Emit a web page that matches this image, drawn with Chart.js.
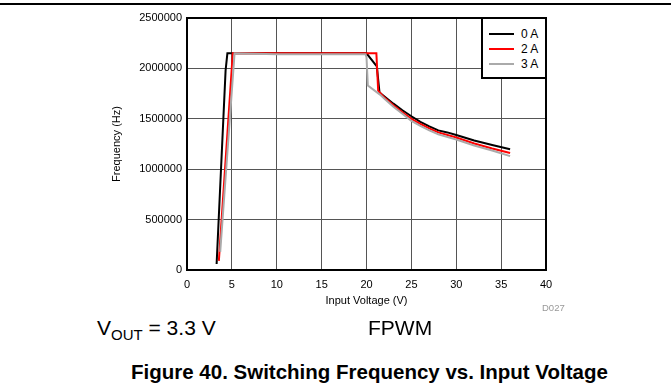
<!DOCTYPE html>
<html>
<head>
<meta charset="utf-8">
<script src="https://cdn.jsdelivr.net/npm/chart.js@4.4.1/dist/chart.umd.min.js"></script>
<style>
  body { margin: 0; background: #fff; font-family: "Liberation Sans", Arial, sans-serif; }
  #wrap { position: relative; width: 671px; height: 388px; overflow: hidden; }
  #topline { position: absolute; left: 0; top: 3px; width: 671px; height: 2px; background: #000; }
  #box { position: absolute; left: 0; top: 0; width: 671px; height: 308px; }
  #legend { position: absolute; left: 481px; top: 17px; width: 62px; height: 58px; border: 2px solid #000; background: #fff; }
  .row { position: absolute; left: 6px; height: 14px; font-size: 12px; line-height: 14px; }
  .row span.sw { position: absolute; left: 0; top: 6px; width: 25px; height: 2px; }
  .row span.tx { position: absolute; left: 32px; top: 0; white-space: nowrap; }
  .note { position: absolute; white-space: nowrap; color: #000; }
</style>
</head>
<body>
<div id="wrap">
  <div id="topline"></div>
  <div id="box"><canvas id="freqChart"></canvas></div>
  <div id="legend"></div>
  <div class="note" style="left:542px; top:302px; font-size:9.5px; color:#999;">D027</div>
  <div class="note" style="left:97px; top:316px; font-size:21px;">V<sub style="font-size:15px; vertical-align:-5px;">OUT</sub> = 3.3 V</div>
  <div class="note" style="left:368px; top:316px; font-size:21px;">FPWM</div>
  <div class="note" style="left:131px; top:360px; font-size:20.5px; font-weight:bold;">Figure 40. Switching Frequency vs. Input Voltage</div>
</div>
<script>
// series: input voltage (V) and switching frequency (Hz)
var seriesNames = ['0 A', '2 A', '3 A'];
var seriesColors = ['#000000', '#ff0000', '#aaaaaa'];

var vin0A = [3.3, 4.3, 4.5, 10, 15, 20.0, 21.15, 21.45, 22, 23, 24, 25, 26, 27, 28, 29, 30, 32, 34, 36];
var freq0A = [60000, 1980000, 2150000, 2150000, 2150000, 2150000, 2020000, 1760000, 1720000, 1650000, 1585000, 1525000, 1470000, 1425000, 1385000, 1365000, 1340000, 1285000, 1240000, 1197000];

var vin2A = [3.55, 5.1, 10, 15, 20, 21.1, 21.3, 22, 23, 24, 25, 26, 27, 28, 30, 32, 34, 36];
var freq2A = [90000, 2150000, 2150000, 2150000, 2150000, 2150000, 1780000, 1710000, 1635000, 1565000, 1500000, 1450000, 1405000, 1365000, 1315000, 1255000, 1205000, 1160000];

var vin3A = [3.7, 5.3, 10, 15, 19.9, 20.0, 20.15, 21.5, 22, 23, 24, 25, 26, 27, 28, 30, 32, 34, 36];
var freq3A = [180000, 2150000, 2140000, 2140000, 2140000, 2110000, 1830000, 1740000, 1700000, 1620000, 1550000, 1480000, 1430000, 1385000, 1345000, 1295000, 1235000, 1185000, 1130000];

var xTicks = [0, 5, 10, 15, 20, 25, 30, 35, 40];
var yTicks = [0, 500000, 1000000, 1500000, 2000000, 2500000];

function toPoints(xs, ys) {
  return xs.map(function (x, i) { return { x: x, y: ys[i] }; });
}

var allX = [vin0A, vin2A, vin3A];
var allY = [freq0A, freq2A, freq3A];

// gray drawn first, black ends up on top
var order = [2, 1, 0];
var datasets = order.map(function (i) {
  return {
    label: seriesNames[i],
    data: toPoints(allX[i], allY[i]),
    showLine: true,
    borderColor: seriesColors[i],
    backgroundColor: seriesColors[i],
    borderWidth: 2,
    pointRadius: 0,
    tension: 0
  };
});

// legend as html
var legend = document.getElementById('legend');
seriesNames.forEach(function (name, i) {
  var row = document.createElement('div');
  row.className = 'row';
  row.style.top = (8 + i * 15) + 'px';
  row.innerHTML = '<span class="sw" style="background:' + seriesColors[i] + '"></span><span class="tx">' + name + '</span>';
  legend.appendChild(row);
});

var frame = {
  id: 'frame',
  afterDatasetsDraw: function (chart) {
    var a = chart.chartArea, c = chart.ctx;
    c.save();
    c.strokeStyle = '#000';
    c.lineWidth = 2;
    c.strokeRect(a.left, a.top, a.right - a.left, a.bottom - a.top);
    c.restore();
  }
};

var tickFont = { family: '"Liberation Sans", Arial, sans-serif', size: 11 };

var ctx = document.getElementById('freqChart').getContext('2d');
var freqChart = new Chart(ctx, {
  type: 'scatter',
  data: { datasets: datasets },
  options: {
    responsive: true,
    maintainAspectRatio: false,
    animation: false,
    layout: { padding: { left: 110, right: 125, top: 18, bottom: 0 } },
    scales: {
      x: {
        type: 'linear',
        min: 0,
        max: 40,
        afterBuildTicks: function (s) { s.ticks = xTicks.map(function (v) { return { value: v }; }); },
        afterFit: function (s) { s.height = 38; },
        grid: { color: '#555', lineWidth: 1, drawTicks: false },
        border: { display: false },
        ticks: { color: '#000', font: tickFont, padding: 8, maxRotation: 0 },
        title: { display: true, text: 'Input Voltage (V)', color: '#000', font: tickFont, padding: { top: 0, bottom: 0 } }
      },
      y: {
        min: 0,
        max: 2500000,
        afterBuildTicks: function (s) { s.ticks = yTicks.map(function (v) { return { value: v }; }); },
        afterFit: function (s) { s.width = 77; },
        grid: { color: '#555', lineWidth: 1, drawTicks: false },
        border: { display: false },
        ticks: { color: '#000', font: tickFont, padding: 5, callback: function (v) { return String(v); } },
        title: { display: true, text: 'Frequency (Hz)', color: '#000', font: tickFont, padding: { top: 0, bottom: 0 } }
      }
    },
    plugins: {
      legend: { display: false },
      tooltip: { enabled: false }
    }
  },
  plugins: [frame]
});
</script>
</body>
</html>
